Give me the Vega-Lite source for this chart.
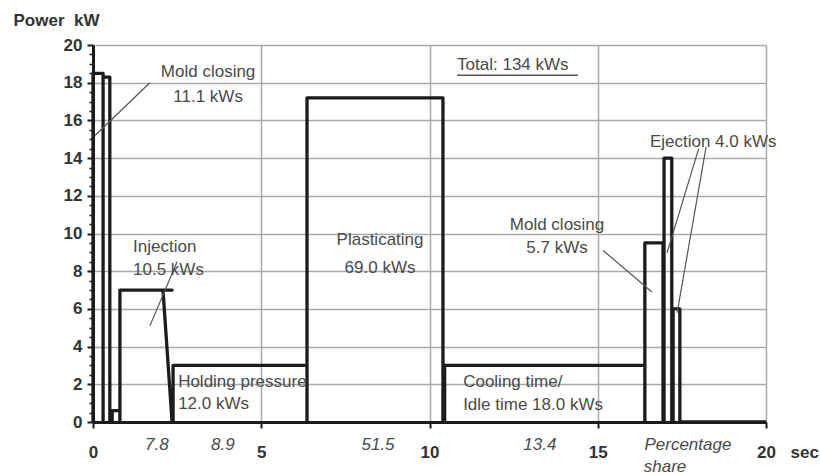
{
  "$schema": "https://vega.github.io/schema/vega-lite/v6.json",
  "width": 673,
  "height": 377,
  "autosize": {"type": "none"},
  "padding": {"left": 93, "top": 45, "right": 54, "bottom": 53},
  "background": "white",
  "config": {
    "view": {"stroke": null},
    "font": "Liberation Sans",
    "text": {"font": "Liberation Sans"}
  },
  "datasets": {
    "profile": [
      {"o": 1, "t": 0, "p": 0}, {"o": 2, "t": 0, "p": 18.5}, {"o": 3, "t": 0.3, "p": 18.5}, {"o": 4, "t": 0.3, "p": 0},
      {"o": 5, "t": 0.3, "p": 18.3}, {"o": 6, "t": 0.5, "p": 18.3}, {"o": 7, "t": 0.5, "p": 0},
      {"o": 8, "t": 0.57, "p": 0}, {"o": 9, "t": 0.57, "p": 0.6}, {"o": 10, "t": 0.8, "p": 0.6}, {"o": 11, "t": 0.8, "p": 0},
      {"o": 12, "t": 0.8, "p": 7.0}, {"o": 13, "t": 2.35, "p": 7.0}, {"o": 14, "t": 2.08, "p": 7.0}, {"o": 15, "t": 2.35, "p": 0},
      {"o": 16, "t": 2.38, "p": 0}, {"o": 17, "t": 2.38, "p": 3.0}, {"o": 18, "t": 6.36, "p": 3.0}, {"o": 19, "t": 6.36, "p": 0},
      {"o": 20, "t": 6.36, "p": 17.2}, {"o": 21, "t": 10.4, "p": 17.2}, {"o": 22, "t": 10.4, "p": 0},
      {"o": 23, "t": 10.45, "p": 0}, {"o": 24, "t": 10.45, "p": 3.0}, {"o": 25, "t": 16.4, "p": 3.0}, {"o": 26, "t": 16.4, "p": 0},
      {"o": 27, "t": 16.4, "p": 9.5}, {"o": 28, "t": 16.94, "p": 9.5}, {"o": 29, "t": 16.94, "p": 0},
      {"o": 30, "t": 16.97, "p": 0}, {"o": 31, "t": 16.97, "p": 14.0}, {"o": 32, "t": 17.2, "p": 14.0}, {"o": 33, "t": 17.2, "p": 0},
      {"o": 34, "t": 17.24, "p": 0}, {"o": 35, "t": 17.24, "p": 6.0}, {"o": 36, "t": 17.44, "p": 6.0}, {"o": 37, "t": 17.44, "p": 0},
      {"o": 38, "t": 20, "p": 0}
    ],
    "leaders": [
      {"id": "a", "t": 1.69, "p": 18.0}, {"id": "a", "t": 0.06, "p": 15.2},
      {"id": "b", "t": 2.5, "p": 8.5}, {"id": "b", "t": 1.69, "p": 5.1},
      {"id": "c", "t": 15.16, "p": 9.1}, {"id": "c", "t": 16.61, "p": 6.9},
      {"id": "d", "t": 18.0, "p": 14.5}, {"id": "d", "t": 17.06, "p": 8.97},
      {"id": "e", "t": 18.22, "p": 14.6}, {"id": "e", "t": 17.36, "p": 5.8}
    ],
    "underline": [{"t": 10.82, "t2": 14.41, "p": 18.4}],
    "leftLabels": [
      {"t": 1.19, "p": 9.28, "label": "Injection"},
      {"t": 1.19, "p": 8.06, "label": "10.5 kWs"},
      {"t": 2.53, "p": 2.12, "label": "Holding pressure"},
      {"t": 2.53, "p": 0.98, "label": "12.0 kWs"},
      {"t": 11.0, "p": 2.12, "label": "Cooling time/"},
      {"t": 11.0, "p": 0.9, "label": "Idle time 18.0 kWs"},
      {"t": 16.55, "p": 14.85, "label": "Ejection 4.0 kWs"},
      {"t": 10.82, "p": 18.94, "label": "Total: 134 kWs"}
    ],
    "centerLabels": [
      {"t": 3.42, "p": 18.57, "label": "Mold closing"},
      {"t": 3.42, "p": 17.24, "label": "11.1 kWs"},
      {"t": 8.53, "p": 9.65, "label": "Plasticating"},
      {"t": 8.53, "p": 8.17, "label": "69.0 kWs"},
      {"t": 13.79, "p": 10.45, "label": "Mold closing"},
      {"t": 13.79, "p": 9.23, "label": "5.7 kWs"}
    ],
    "shares": [
      {"t": 1.9, "p": -1.22, "label": "7.8"},
      {"t": 3.86, "p": -1.22, "label": "8.9"},
      {"t": 8.47, "p": -1.22, "label": "51.5"},
      {"t": 13.28, "p": -1.22, "label": "13.4"},
      {"t": 17.68, "p": -1.22, "label": "Percentage"},
      {"t": 17.0, "p": -2.39, "label": "share"}
    ]
  },
  "resolve": {"axis": {"y": "independent"}},
  "layer": [
    {
      "data": {"name": "profile"},
      "mark": {"type": "line", "color": "#1c1c1c", "strokeWidth": 3.3, "strokeJoin": "round", "clip": false},
      "encoding": {
        "x": {
          "field": "t", "type": "quantitative",
          "scale": {"domain": [0, 20], "nice": false, "zero": false},
          "axis": {
            "values": [0, 5, 10, 15, 20],
            "grid": true, "gridColor": "#aaaaaa", "gridWidth": 1.5,
            "domainColor": "#1c1c1c", "domainWidth": 3,
            "tickColor": "#1c1c1c", "tickWidth": 2, "tickSize": 6,
            "labelFont": "Liberation Sans", "labelFontSize": 17, "labelFontWeight": "bold", "labelColor": "#333333",
            "labelPadding": 16, "labelFlush": false,
            "title": "sec", "titleFont": "Liberation Sans", "titleFontSize": 17, "titleFontWeight": "bold", "titleColor": "#333333",
            "titleX": 697, "titleY": 30, "titleAlign": "left", "titleBaseline": "middle"
          }
        },
        "y": {
          "field": "p", "type": "quantitative",
          "scale": {"domain": [0, 20], "nice": false},
          "axis": {
            "orient": "left",
            "values": [0, 2, 4, 6, 8, 10, 12, 14, 16, 18, 20],
            "grid": true, "gridColor": "#aaaaaa", "gridWidth": 1.5,
            "domainColor": "#1c1c1c", "domainWidth": 3,
            "tickColor": "#1c1c1c", "tickWidth": 2, "tickSize": 6,
            "labelFont": "Liberation Sans", "labelFontSize": 17, "labelFontWeight": "bold", "labelColor": "#333333",
            "labelPadding": 5,
            "title": "Power\u00a0\u00a0kW", "titleFont": "Liberation Sans", "titleFontSize": 17, "titleFontWeight": "bold", "titleColor": "#333333",
            "titleAngle": 0, "titleX": -80, "titleY": -25, "titleAlign": "left", "titleBaseline": "middle"
          }
        },
        "order": {"field": "o", "type": "quantitative"}
      }
    },
    {
      "data": {"name": "leaders"},
      "mark": {"type": "line", "color": "#555555", "strokeWidth": 1.2},
      "encoding": {
        "x": {"field": "t", "type": "quantitative"},
        "y": {
          "field": "p", "type": "quantitative",
          "axis": {
            "orient": "left",
            "values": [0.5, 1, 1.5, 2.5, 3, 3.5, 4.5, 5, 5.5, 6.5, 7, 7.5, 8.5, 9, 9.5, 10.5, 11, 11.5, 12.5, 13, 13.5, 14.5, 15, 15.5, 16.5, 17, 17.5, 18.5, 19, 19.5],
            "grid": false, "domain": false, "labels": false, "title": null,
            "tickColor": "#1c1c1c", "tickWidth": 1.5, "tickSize": 4
          }
        },
        "detail": {"field": "id"}
      }
    },
    {
      "data": {"name": "underline"},
      "mark": {"type": "rule", "color": "#555555", "strokeWidth": 1.5},
      "encoding": {
        "x": {"field": "t", "type": "quantitative"},
        "x2": {"field": "t2"},
        "y": {"field": "p", "type": "quantitative", "axis": null}
      }
    },
    {
      "data": {"name": "leftLabels"},
      "mark": {"type": "text", "align": "left", "baseline": "middle", "font": "Liberation Sans", "fontSize": 17, "color": "#4a4a4a"},
      "encoding": {
        "x": {"field": "t", "type": "quantitative"},
        "y": {"field": "p", "type": "quantitative", "axis": null},
        "text": {"field": "label"}
      }
    },
    {
      "data": {"name": "centerLabels"},
      "mark": {"type": "text", "align": "center", "baseline": "middle", "font": "Liberation Sans", "fontSize": 17, "color": "#4a4a4a"},
      "encoding": {
        "x": {"field": "t", "type": "quantitative"},
        "y": {"field": "p", "type": "quantitative", "axis": null},
        "text": {"field": "label"}
      }
    },
    {
      "data": {"name": "shares"},
      "mark": {"type": "text", "align": "center", "baseline": "middle", "font": "Liberation Sans", "fontSize": 17, "fontStyle": "italic", "color": "#4a4a4a"},
      "encoding": {
        "x": {"field": "t", "type": "quantitative"},
        "y": {"field": "p", "type": "quantitative", "axis": null},
        "text": {"field": "label"}
      }
    }
  ]
}
